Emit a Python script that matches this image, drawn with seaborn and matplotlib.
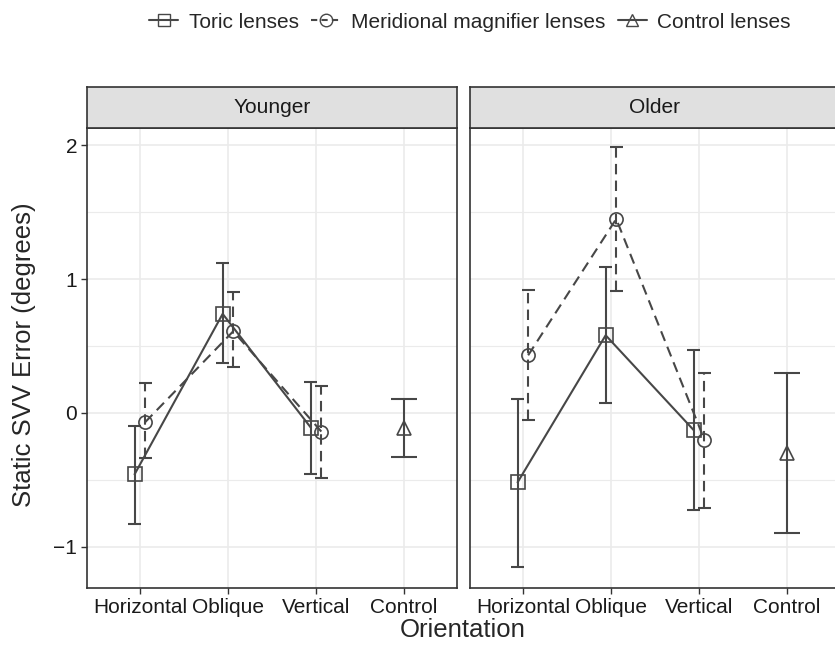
import numpy as np
import pandas as pd
import seaborn as sns
import matplotlib.pyplot as plt
from matplotlib.lines import Line2D

# Categories
orientations = ["Horizontal", "Oblique", "Vertical", "Control"]
age_groups = ["Younger", "Older"]
lens_types = ["Toric lenses", "Meridional magnifier lenses", "Control lenses"]

# Younger group (mean, lower, upper)
young_toric_mean = [-0.46, 0.74, -0.11]
young_toric_lo = [-0.83, 0.37, -0.46]
young_toric_hi = [-0.10, 1.12, 0.23]
young_mm_mean = [-0.07, 0.61, -0.14]
young_mm_lo = [-0.34, 0.34, -0.49]
young_mm_hi = [0.22, 0.90, 0.20]
young_ctrl_mean = [-0.11]
young_ctrl_lo = [-0.33]
young_ctrl_hi = [0.10]

# Older group
old_toric_mean = [-0.52, 0.58, -0.13]
old_toric_lo = [-1.15, 0.07, -0.73]
old_toric_hi = [0.10, 1.09, 0.47]
old_mm_mean = [0.43, 1.45, -0.20]
old_mm_lo = [-0.05, 0.91, -0.71]
old_mm_hi = [0.92, 1.99, 0.30]
old_ctrl_mean = [-0.30]
old_ctrl_lo = [-0.90]
old_ctrl_hi = [0.30]

rows = []
def add(age, lens, cats, mean, lo, hi):
    for c, m, l, h in zip(cats, mean, lo, hi):
        rows.append(dict(age=age, lens=lens, orientation=c, mean=m, lo=l, hi=h))

add("Younger", lens_types[0], orientations[:3], young_toric_mean, young_toric_lo, young_toric_hi)
add("Younger", lens_types[1], orientations[:3], young_mm_mean, young_mm_lo, young_mm_hi)
add("Younger", lens_types[2], orientations[3:], young_ctrl_mean, young_ctrl_lo, young_ctrl_hi)
add("Older", lens_types[0], orientations[:3], old_toric_mean, old_toric_lo, old_toric_hi)
add("Older", lens_types[1], orientations[:3], old_mm_mean, old_mm_lo, old_mm_hi)
add("Older", lens_types[2], orientations[3:], old_ctrl_mean, old_ctrl_lo, old_ctrl_hi)
df = pd.DataFrame(rows)

# dodge the two lens types a bit
offsets = {lens_types[0]: -0.06, lens_types[1]: 0.06, lens_types[2]: 0.0}
capw = {lens_types[0]: 0.075, lens_types[1]: 0.075, lens_types[2]: 0.15}
df["x"] = df["orientation"].map(orientations.index) + df["lens"].map(offsets)

sns.set_style("white")
plt.rcParams["font.family"] = ["Liberation Sans", "DejaVu Sans"]

col = "#474747"
txt = "#1a1a1a"
fs = 15
markers = {lens_types[0]: "s", lens_types[1]: "o", lens_types[2]: "^"}
dashes = {lens_types[0]: "", lens_types[1]: (5, 3), lens_types[2]: ""}
lstyle = {lens_types[0]: "solid", lens_types[1]: (0, (5, 3)), lens_types[2]: "solid"}

fig = plt.figure(figsize=(8.35, 6.48), dpi=100)
W, H = 835, 648
panels = {"Younger": (87, 370), "Older": (470, 370)}
top, bot = 128, 588

for age in age_groups:
    x0, w = panels[age]
    ax = fig.add_axes([x0 / W, (H - bot) / H, w / W, (bot - top) / H])
    sub = df[df["age"] == age]

    ax.set_xlim(-0.6, 3.6)
    ax.set_ylim(-1.31, 2.13)
    ax.set_yticks([-1, 0, 1, 2])
    ax.set_yticks([-0.5, 0.5, 1.5], minor=True)
    ax.set_xticks(range(len(orientations)))
    ax.grid(True, which="major", color="#ebebeb", lw=1.2, zorder=0)
    ax.grid(True, which="minor", axis="y", color="#ebebeb", lw=0.8, zorder=0)
    ax.set_axisbelow(True)

    # error bars
    for lens in lens_types:
        s = sub[sub["lens"] == lens]
        ax.vlines(s["x"], s["lo"], s["hi"], color=col, lw=1.5, linestyles=lstyle[lens], zorder=2)
        for yy in ("lo", "hi"):
            ax.hlines(s[yy], s["x"] - capw[lens], s["x"] + capw[lens], color=col, lw=1.5, zorder=2)

    sns.lineplot(data=sub, x="x", y="mean", style="lens", style_order=lens_types,
                 markers=markers, dashes=dashes, color=col, lw=1.5, ms=9.5,
                 markerfacecolor="none", markeredgecolor=col, markeredgewidth=1.2,
                 legend=False, ax=ax, zorder=3, sort=False, estimator=None)

    ax.set_xticklabels(orientations, fontsize=fs, color=txt)
    ax.set_xlabel("")
    ax.set_ylabel("")
    ax.tick_params(axis="both", which="major", length=4, width=1, color="#333333", direction="out",
                   pad=3, bottom=True, left=(age == "Younger"))
    ax.tick_params(axis="both", which="minor", length=0)
    if age == "Younger":
        ax.set_yticklabels(["\u22121", "0", "1", "2"], fontsize=fs, color=txt)
    else:
        ax.set_yticklabels([])
    for sp in ax.spines.values():
        sp.set_color("#333333")
        sp.set_linewidth(1.2)

    # facet strip
    sax = fig.add_axes([x0 / W, (H - top) / H, w / W, 41 / H])
    sax.set_facecolor("#e0e0e0")
    sax.set_xticks([])
    sax.set_yticks([])
    for sp in sax.spines.values():
        sp.set_color("#333333")
        sp.set_linewidth(1.2)
    sax.text(0.5, 0.5, age, ha="center", va="center", fontsize=fs, color=txt,
             transform=sax.transAxes)

fig.text(463 / W, 1 - 630 / H, "Orientation", ha="center", va="center", fontsize=18.5)
fig.text(24 / W, 1 - 355 / H, "Static SVV Error (degrees)", ha="center", va="center",
         rotation=90, fontsize=18.5)

handles = [
    Line2D([], [], color=col, lw=1.5, marker="s", ms=9, mfc="none", mec=col),
    Line2D([], [], color=col, lw=1.5, ls=(0, (3, 2)), marker="o", ms=9, mfc="none", mec=col),
    Line2D([], [], color=col, lw=1.5, marker="^", ms=9, mfc="none", mec=col),
]
fig.legend(handles, lens_types, loc="center", bbox_to_anchor=(470 / W, 1 - 22 / H), ncol=3,
           frameon=False, fontsize=fs, handlelength=1.4, handletextpad=0.5, columnspacing=0.6)

fig.savefig("out.png", dpi=100)
